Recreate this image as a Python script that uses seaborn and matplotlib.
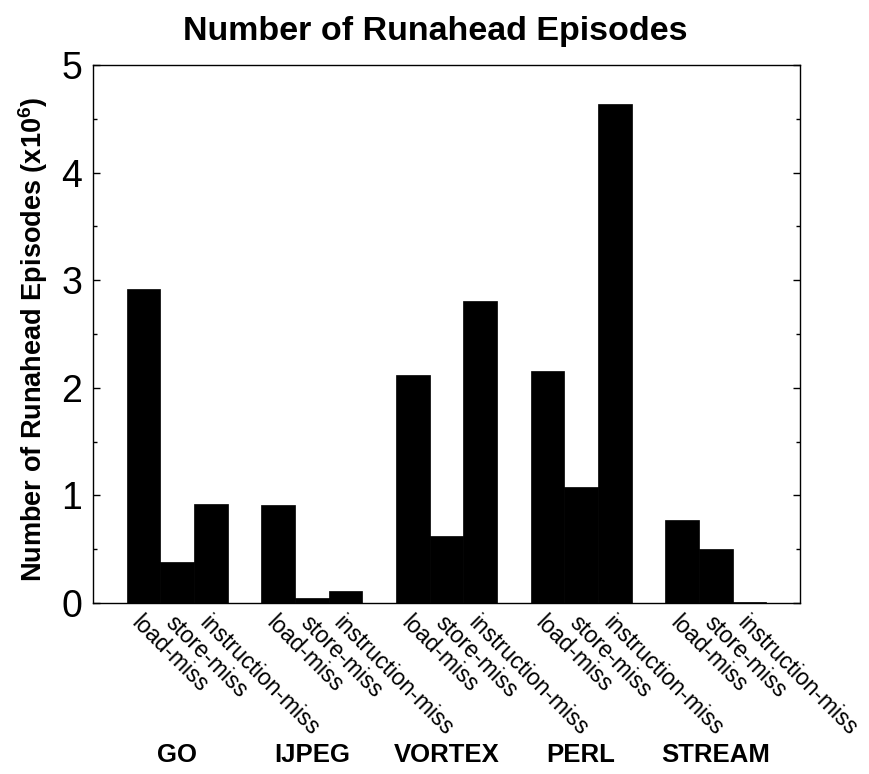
import numpy as np
import pandas as pd
import matplotlib
matplotlib.use('Agg')
import matplotlib.pyplot as plt
import matplotlib.transforms as mtransforms
from matplotlib.ticker import MultipleLocator
import seaborn as sns

groups = ['GO', 'IJPEG', 'VORTEX', 'PERL', 'STREAM']
miss_types = ['load-miss', 'store-miss', 'instruction-miss']
load_miss = [2.92, 0.91, 2.12, 2.16, 0.77]
store_miss = [0.38, 0.05, 0.62, 1.08, 0.50]
instruction_miss = [0.92, 0.11, 2.81, 4.64, 0.01]

# long table: one row per bar, with an empty slot between benchmarks
rows = []
for g, name in enumerate(groups):
    for t, vals in enumerate([load_miss, store_miss, instruction_miss]):
        rows.append([name, miss_types[t], g * 4 + t + 1, vals[g]])
df = pd.DataFrame(rows, columns=['Benchmark', 'Type', 'Slot', 'Episodes'])

sns.set_theme(style='ticks')
plt.rcParams['font.family'] = ['Liberation Sans', 'DejaVu Sans']
plt.rcParams['mathtext.fontset'] = 'custom'
plt.rcParams['mathtext.bf'] = 'Liberation Sans:bold'
plt.rcParams['mathtext.rm'] = 'Liberation Sans'
plt.rcParams['text.color'] = 'black'
plt.rcParams['axes.labelcolor'] = 'black'
plt.rcParams['xtick.color'] = 'black'
plt.rcParams['ytick.color'] = 'black'

fig = plt.figure(figsize=(8.7, 7.74), dpi=100)
ax = fig.add_axes([0.107, 0.221, 0.8125, 0.695])

sns.barplot(data=df, x='Slot', y='Episodes', native_scale=True, width=1,
            color='black', saturation=1, edgecolor='black', linewidth=0.5, ax=ax)

ax.set_xlim(-0.5, 20.5)
ax.set_ylim(0, 5)
ax.yaxis.set_major_locator(MultipleLocator(1))
ax.yaxis.set_minor_locator(MultipleLocator(0.5))
ax.tick_params(axis='y', which='both', direction='in', left=True, right=True,
               labelsize=27, pad=8, width=1.0)
ax.tick_params(axis='y', which='major', length=5)
ax.tick_params(axis='y', which='minor', length=3)

ax.set_xticks(df['Slot'])
ax.set_xticklabels(df['Type'], rotation=-45, ha='left', va='center',
                   rotation_mode='anchor', fontsize=16.5)
ax.tick_params(axis='x', length=0, pad=12)
shift = mtransforms.ScaledTranslation(-8 / 100, 0, fig.dpi_scale_trans)
for lab in ax.get_xticklabels():
    lab.set_transform(lab.get_transform() + shift)

for s in ax.spines.values():
    s.set_visible(True)
    s.set_linewidth(1.0)
    s.set_color('black')

ax.set_xlabel('')
ax.set_ylabel(r'Number of Runahead Episodes (x10$^{\mathbf{6}}$)',
              fontsize=19.5, fontweight='bold')
ax.yaxis.set_label_coords(-0.061, 0.49)

# benchmark names under each group
trans = mtransforms.blended_transform_factory(ax.transData, fig.transFigure)
for g, name in enumerate(groups):
    ax.text(g * 4 + 2, 0.0245, name, transform=trans, ha='center', va='center',
            fontsize=18.5, fontweight='bold')

fig.text(0.5, 0.959, 'Number of Runahead Episodes', ha='center', va='center',
         fontsize=24.5, fontweight='bold')

fig.savefig('out.png', dpi=100)
